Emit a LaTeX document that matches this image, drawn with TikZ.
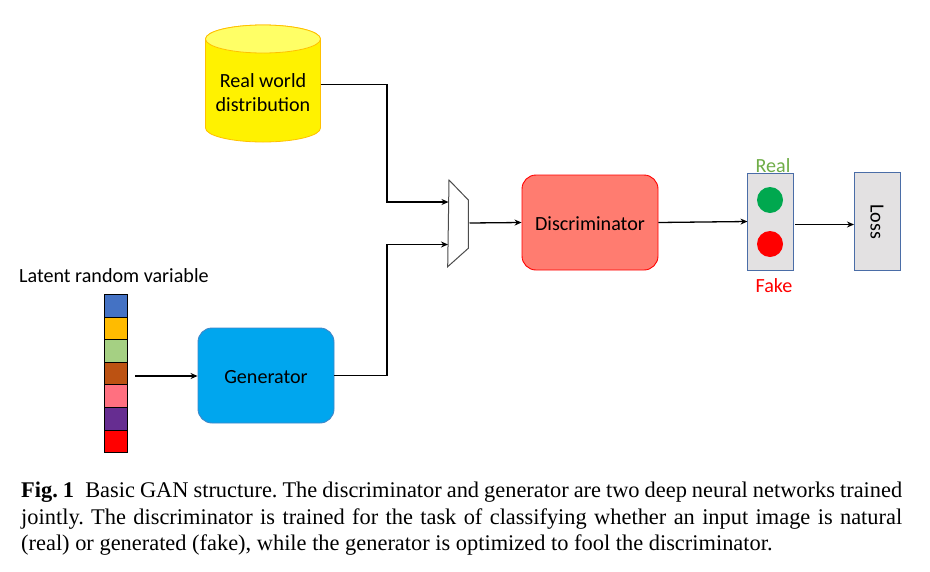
\documentclass[tikz,border=0pt]{standalone}
\usepackage{fontspec}
\setmainfont{Carlito}
\newfontfamily\capfont{Liberation Serif}
\usetikzlibrary{arrows.meta,calc}
\definecolor{boxgrey}{HTML}{E3E1E2}
\definecolor{boxblue}{HTML}{4A6DA7}
\definecolor{cgreen}{HTML}{00A84F}
\definecolor{labgreen}{HTML}{6FAD47}
\definecolor{cylline}{HTML}{FFC000}
\definecolor{cyltop}{HTML}{FFFF66}
\definecolor{discfill}{HTML}{FF7C70}
\definecolor{genfill}{HTML}{00A6EE}
\definecolor{genline}{HTML}{3F86C8}
\tikzset{
  x=1pt,y=-1pt,
  lab/.style={inner sep=0pt,text=black,font=\fontsize{20.1}{24}\selectfont,align=center},
  block/.style={rounded corners=14pt,minimum width=136pt,minimum height=95pt,inner sep=0pt,line width=0.9pt,font=\fontsize{20.1}{24}\selectfont},
  result/.style={draw=boxblue,fill=boxgrey,line width=1pt,inner sep=0pt,minimum width=46pt},
  cell/.style={draw=black,line width=1.1pt,minimum width=22.5pt,minimum height=22.6pt,inner sep=0pt},
  lamp/.style={circle,minimum size=26pt,inner sep=0pt},
  conn/.style={line width=1.3pt,-{Stealth[length=7pt,width=6pt]}},
}
\begin{document}
\begin{tikzpicture}
\useasboundingbox (0,0) rectangle (930,571);
% cylinder
\path[fill=yellow,draw=cylline,line width=0.8pt]
  (205.5,39) -- (205.5,128) arc[x radius=57.5,y radius=14,start angle=180,end angle=0] -- (320.5,39) arc[x radius=57.5,y radius=14,start angle=0,end angle=-180] -- cycle;
\path[fill=cyltop,draw=cylline,line width=0.8pt]
  (263,39) ellipse[x radius=57.5,y radius=14];
\node[minimum width=115pt,minimum height=2pt,inner sep=0pt] (db) at (263,84.3) {};
\node[lab] (dbtext) at (263,92.6) {Real world\\distribution};
% multiplexer
\draw[draw=black!70,line width=1pt,fill=white] (449,180) -- (468.3,200) -- (468.3,248.3) -- (447.7,266.7) -- cycle;
\coordinate (m1) at (448.5,202);
\coordinate (m2) at (448,244.5);
\coordinate (mo) at (469.5,223);
\coordinate (j1) at (387,143);
\coordinate (j2) at (387,310);
% blocks
\node[block,draw=red,fill=discfill] (disc) at (590,222.5) {\raisebox{-7.8pt}[0pt][0pt]{Discriminator}};
\node[block,draw=genline,fill=genfill] (gen) at (266,375.5) {\raisebox{-7.8pt}[0pt][0pt]{Generator}};
\node[result,minimum height=97pt,minimum width=45.5pt] (res) at (770.7,221.5) {};
\node[lamp,fill=cgreen] (lg) at (770,200) {};
\node[lamp,fill=red] (lr) at (770,244) {};
\node[lab,text={labgreen}] (real) at (773,165.5) {Real};
\node[lab,text=red] (fake) at (774,286) {Fake};
\node[result,minimum height=98pt] (loss) at (877.5,221) {};
\node[lab,rotate=-90] (losstext) at (877,221.5) {Loss};
% latent vector
\node[lab,anchor=west] (latent) at (19,275.5) {Latent random variable};
\foreach \n/\c [count=\i from 0] in {a/4472C4,b/FFBB00,c/A5D083,d/BC5212,e/FF7080,f/662D91,g/FF0000}{
  \definecolor{tmpc}{HTML}{\c}
  \node[cell,fill=tmpc] (\n) at (115.8,{305.8+22.6*\i}) {};
}
\coordinate (vec) at (135,376);
% connectors
\draw[conn] (db.east) -| (j1) |- (m1);
\draw[conn] (gen.east) -| (j2) |- (m2);
\draw[conn] (mo) -- (disc.west);
\draw[conn] (disc.east) -- (res.west);
\draw[conn] ($(res.east)+(1,3)$) -- ($(loss.west)+(0,3.5)$);
\draw[conn] (vec) -- (vec -| gen.west);
% caption
\node[anchor=north west,inner sep=0pt,text width=881pt,align=justify,font=\capfont\fontsize{22.4}{26.5}\selectfont\frenchspacing] (caption) at (21,482)
 {\textbf{Fig. 1}\hspace{0.5em}Basic GAN structure. The discriminator and generator are two deep neural networks trained\linebreak jointly. The discriminator is trained for the task of classifying whether an input image is natural\linebreak (real) or generated (fake), while the generator is optimized to fool the discriminator.};
\end{tikzpicture}
\end{document}
